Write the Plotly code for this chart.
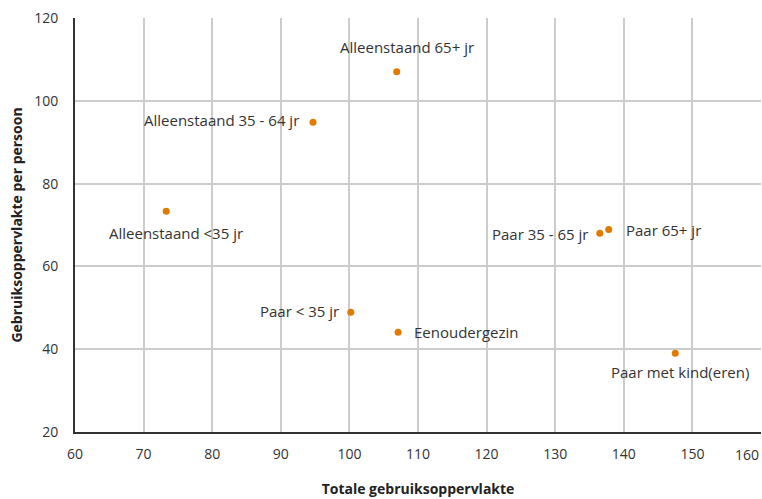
import plotly.graph_objects as go

labels = ["Alleenstaand 65+ jr", "Alleenstaand 35 - 64 jr", "Alleenstaand <35 jr",
          "Paar 35 - 65 jr", "Paar 65+ jr", "Paar < 35 jr", "Eenoudergezin", "Paar met kind(eren)"]
totaal = [106.9, 94.7, 73.3, 136.5, 137.8, 100.2, 107.1, 147.5]
per_persoon = [107.0, 94.8, 73.3, 68.0, 68.9, 48.9, 44.1, 39.0]
x_ticks = [60, 70, 80, 90, 100, 110, 120, 130, 140, 150, 160]
y_ticks = [20, 40, 60, 80, 100, 120]

# label placement: (xanchor, yanchor, xshift, yshift)
placement = [
    ("center", "bottom", 10, 13),
    ("right", "middle", -12, 2),
    ("center", "top", 10, -10),
    ("right", "middle", -10, -1),
    ("left", "middle", 15, 0),
    ("right", "middle", -10, 1),
    ("left", "middle", 14, 0),
    ("center", "top", 5, -7),
]

orange = "#E07B00"
txt_font = dict(family="Open Sans", size=15, color="#333333")
tick_font = dict(family="Open Sans", size=14, color="#333333")

fig = go.Figure()
fig.add_trace(go.Scatter(x=totaal, y=per_persoon, mode="markers",
                         marker=dict(color=orange, size=7), hoverinfo="text", text=labels))

for lab, xv, yv, (xa, ya, xs, ys) in zip(labels, totaal, per_persoon, placement):
    fig.add_annotation(x=xv, y=yv, text=lab, showarrow=False, xanchor=xa, yanchor=ya,
                       xshift=xs, yshift=ys, font=txt_font)

# last x tick label sits at the right edge of the figure; draw it right-aligned
fig.add_annotation(x=x_ticks[-1], y=0, xref="x", yref="paper", text=str(x_ticks[-1]),
                   showarrow=False, xanchor="right", yanchor="top", xshift=0, yshift=-11,
                   font=tick_font)

fig.update_layout(
    width=762, height=499,
    margin=dict(l=75, r=1, t=18, b=67),
    plot_bgcolor="white", paper_bgcolor="white",
    showlegend=False,
    font=dict(family="Open Sans", size=14, color="#333333"),
)
fig.update_xaxes(range=[60, 160], tickvals=x_ticks[:-1], showgrid=True, gridcolor="#cccccc", gridwidth=1.5,
                 showline=True, linecolor="#333333", linewidth=2, ticks="", zeroline=False,
                 automargin=False, ticklabelstandoff=8,
                 tickfont=tick_font,
                 title=dict(text="<b>Totale gebruiksoppervlakte</b>", standoff=22,
                            font=dict(family="Open Sans", size=14, color="#222222")))
fig.update_yaxes(range=[20, 120], tickvals=y_ticks, showgrid=True, gridcolor="#cccccc", gridwidth=1.5,
                 showline=True, linecolor="#333333", linewidth=2, ticks="", zeroline=False,
                 automargin=False, ticklabelstandoff=12,
                 tickfont=tick_font,
                 title=dict(text="<b>Gebruiksoppervlakte per persoon</b>", standoff=8,
                            font=dict(family="Open Sans", size=14, color="#222222")))

fig.write_html("out.html", config={"displayModeBar": False},
               post_script="document.body.style.margin='0';document.body.style.overflow='hidden';")
